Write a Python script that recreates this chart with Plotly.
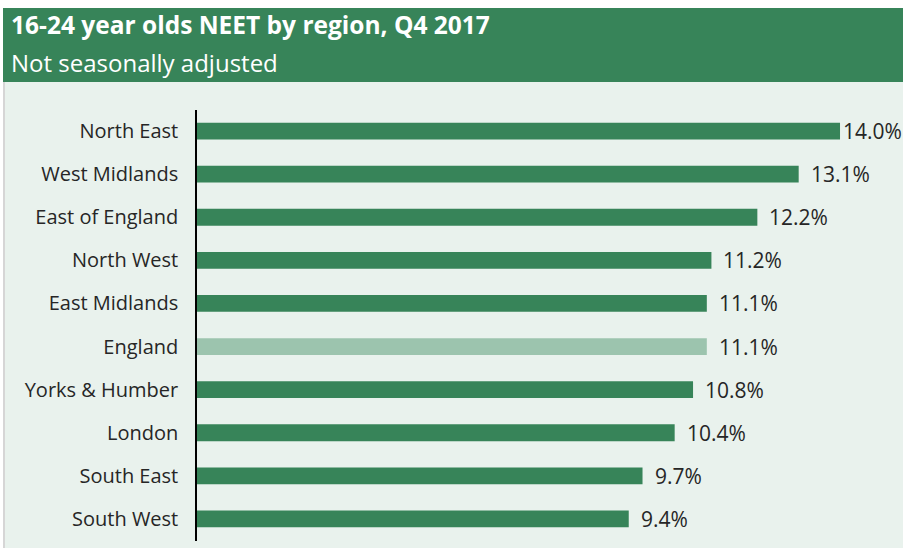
import plotly.graph_objects as go

regions = ["North East", "West Midlands", "East of England", "North West", "East Midlands",
           "England", "Yorks & Humber", "London", "South East", "South West"]
values = [14.0, 13.1, 12.2, 11.2, 11.1, 11.1, 10.8, 10.4, 9.7, 9.4]
value_labels = ["14.0%", "13.1%", "12.2%", "11.2%", "11.1%", "11.1%", "10.8%", "10.4%", "9.7%", "9.4%"]

title_text = "16-24 year olds NEET by region, Q4 2017"
subtitle_text = "Not seasonally adjusted"

W, H = 903, 552
GREEN = "#378459"
LIGHT = "#9CC4AE"
BG = "#E9F2ED"
TEXT = "#262626"

colors = [LIGHT if r == "England" else GREEN for r in regions]

x0_px, x_scale = 197, 45.93
xmax = 15.0
x_dom = [x0_px / W, (x0_px + xmax * x_scale) / W]
y_top, y_bot = 109.5, 540.5
y_dom = [1 - y_bot / H, 1 - y_top / H]

fig = go.Figure(go.Bar(
    x=values, y=regions, orientation="h",
    marker=dict(color=colors, line=dict(width=0)),
    width=0.39, hoverinfo="skip",
))

annotations = []
for r, v, t in zip(regions, values, value_labels):
    annotations.append(dict(
        x=v, y=r, xref="x", yref="y", text=t, showarrow=False,
        xanchor="left", yanchor="middle", xshift=1 if v >= 14 else 10,
        font=dict(family="Open Sans, sans-serif", size=21, color=TEXT),
    ))
annotations.append(dict(
    x=9 / W, y=1 - 25 / H, xref="paper", yref="paper", text="<b>" + title_text + "</b>",
    showarrow=False, xanchor="left", yanchor="middle",
    font=dict(family="Open Sans, sans-serif", size=24.5, color="white"),
))
annotations.append(dict(
    x=9 / W, y=1 - 63 / H, xref="paper", yref="paper", text=subtitle_text,
    showarrow=False, xanchor="left", yanchor="middle",
    font=dict(family="Open Sans, sans-serif", size=24, color="white"),
))

shapes = [
    dict(type="rect", xref="paper", yref="paper", x0=3 / W, x1=1, y0=1 - 82 / H, y1=1 - 8 / H,
         fillcolor=GREEN, line=dict(width=0), layer="below"),
    dict(type="rect", xref="paper", yref="paper", x0=5 / W, x1=1, y0=1 - 548 / H, y1=1 - 82 / H,
         fillcolor=BG, line=dict(width=0), layer="below"),
    dict(type="line", xref="paper", yref="paper", x0=4 / W, x1=4 / W, y0=1 - 548 / H, y1=1 - 82 / H,
         line=dict(color="#D6D6D6", width=2), layer="below"),
]

fig.update_layout(
    width=W, height=H,
    margin=dict(l=0, r=0, t=0, b=0),
    paper_bgcolor="white", plot_bgcolor="rgba(0,0,0,0)",
    showlegend=False,
    annotations=annotations, shapes=shapes,
    xaxis=dict(domain=x_dom, range=[0, xmax], visible=False, fixedrange=True),
    yaxis=dict(domain=y_dom, autorange="reversed", showline=True, linecolor="black", linewidth=1.5,
               showgrid=False, ticks="", ticklabelstandoff=13, automargin=False,
               tickfont=dict(family="Open Sans, sans-serif", size=20, color=TEXT), fixedrange=True),
)

fig.write_html("out.html", config={"displayModeBar": False},
               post_script="document.body.style.margin='0px';document.body.style.overflow='hidden';")
